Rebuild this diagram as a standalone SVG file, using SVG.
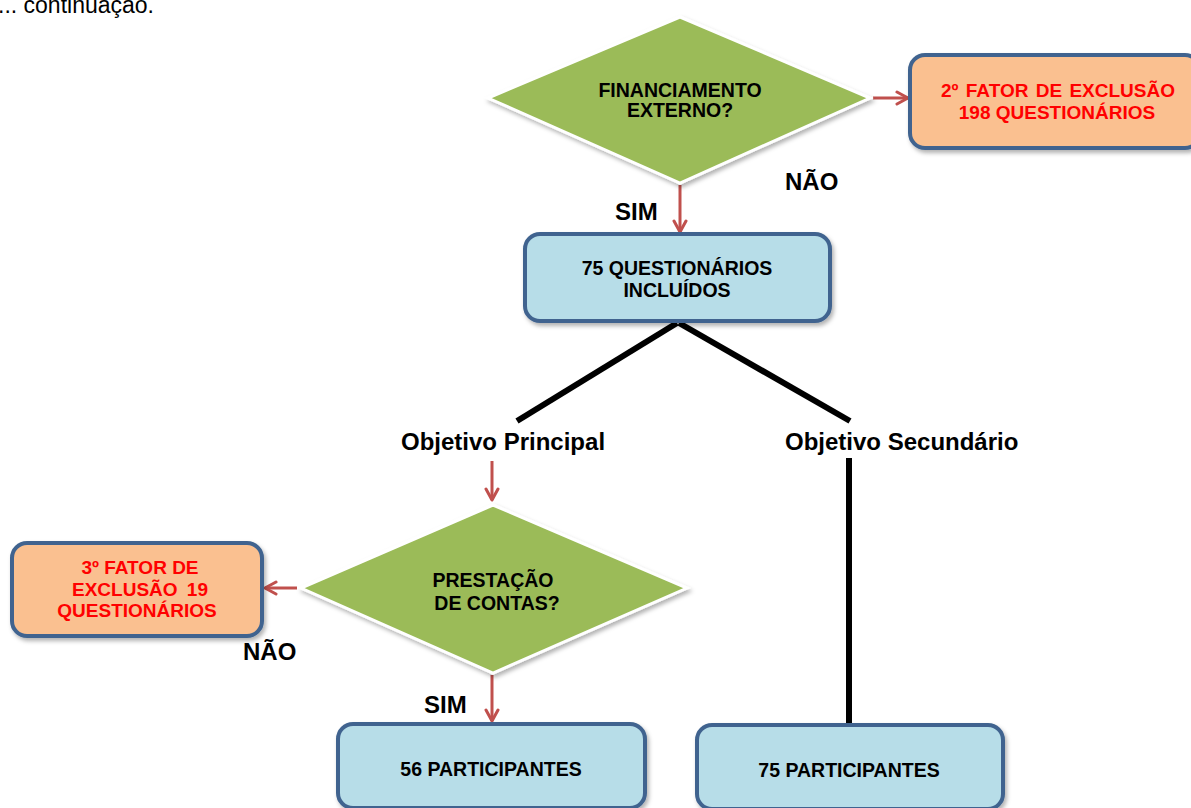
<svg xmlns="http://www.w3.org/2000/svg" width="1191" height="808" viewBox="0 0 1191 808">
<defs>
<filter id="sh" x="-10%" y="-10%" width="130%" height="130%">
<feDropShadow dx="2" dy="3" stdDeviation="2" flood-color="#000" flood-opacity="0.3"/>
</filter>
<marker id="ah" viewBox="0 0 16 16" refX="13" refY="8" markerWidth="16" markerHeight="16" markerUnits="userSpaceOnUse" orient="auto">
<path d="M2,2 L13,8 L2,14" fill="none" stroke="#C0504D" stroke-width="3" stroke-linecap="round" stroke-linejoin="round"/>
</marker>
<style>
.dia{fill:#9BBB59;stroke:#FFFFFF;stroke-width:3;filter:url(#sh)}
.blue{fill:#B7DDE8;stroke:#41648F;stroke-width:4;filter:url(#sh)}
.orange{fill:#FAC090;stroke:#41648F;stroke-width:4;filter:url(#sh)}
.t{font-family:"Liberation Sans",Arial,sans-serif;font-weight:bold;font-size:19.5px;fill:#000;text-anchor:middle}
.r{font-family:"Liberation Sans",Arial,sans-serif;font-weight:bold;font-size:19px;fill:#FF0000;text-anchor:middle}
.lbl{font-family:"Liberation Sans",Arial,sans-serif;font-weight:bold;font-size:24px;fill:#000}
.red{stroke:#C0504D;stroke-width:3;fill:none;marker-end:url(#ah)}
.blk{stroke:#000;stroke-width:6;fill:none}
</style>
</defs>
<rect width="1191" height="808" fill="#FFFFFF"/>
<text x="-2" y="13" font-family="'Liberation Sans',Arial,sans-serif" font-size="23" fill="#000">... continuação.</text>

<g id="connectors">
<line class="red" x1="873" y1="98" x2="908" y2="98"/>
<line class="red" x1="680" y1="185" x2="680" y2="232"/>
<line class="blk" x1="677" y1="323" x2="517" y2="421"/>
<line class="blk" x1="679" y1="323" x2="850" y2="421"/>
<line class="red" x1="492" y1="461" x2="492" y2="500"/>
<line class="red" x1="297" y1="588" x2="265" y2="588"/>
<line class="red" x1="492" y1="675" x2="492" y2="721"/>
<line class="blk" x1="849" y1="458" x2="849" y2="724" stroke-width="5"/>
</g>

<g id="decision1">
<polygon class="dia" points="488,98 680,17 870,98 680,183"/>
<text class="t" x="680" y="97">FINANCIAMENTO</text>
<text class="t" x="680" y="117">EXTERNO?</text>
</g>

<g id="exclusion2">
<rect class="orange" x="910" y="55" width="290" height="93" rx="15"/>
<text class="r" x="1058" y="97" word-spacing="2">2º FATOR DE EXCLUSÃO</text>
<text class="r" x="1057" y="119">198 QUESTIONÁRIOS</text>
</g>

<g id="included75">
<rect class="blue" x="525" y="234" width="305" height="87" rx="15"/>
<text class="t" x="677" y="275">75 QUESTIONÁRIOS</text>
<text class="t" x="677" y="297">INCLUÍDOS</text>
</g>

<g id="labels">
<text class="lbl" x="785" y="190">NÃO</text>
<text class="lbl" x="615" y="220">SIM</text>
<text class="lbl" x="401" y="450">Objetivo Principal</text>
<text class="lbl" x="785" y="450">Objetivo Secundário</text>
<text class="lbl" x="243" y="660">NÃO</text>
<text class="lbl" x="424" y="713">SIM</text>
</g>

<g id="decision2">
<polygon class="dia" points="301,588 493,505 687,588 493,673"/>
<text class="t" x="493" y="587">PRESTAÇÃO</text>
<text class="t" x="497" y="610">DE CONTAS?</text>
</g>

<g id="exclusion3">
<rect class="orange" x="12" y="543" width="250" height="93" rx="15"/>
<text class="r" x="140" y="574">3º FATOR DE</text>
<text class="r" x="140" y="596" word-spacing="4">EXCLUSÃO 19</text>
<text class="r" x="137" y="617">QUESTIONÁRIOS</text>
</g>

<g id="participants56">
<rect class="blue" x="338" y="724" width="307" height="84" rx="15"/>
<text class="t" x="491" y="776">56 PARTICIPANTES</text>
</g>

<g id="participants75">
<rect class="blue" x="697" y="725" width="306" height="84" rx="15"/>
<text class="t" x="849" y="777">75 PARTICIPANTES</text>
</g>
</svg>
